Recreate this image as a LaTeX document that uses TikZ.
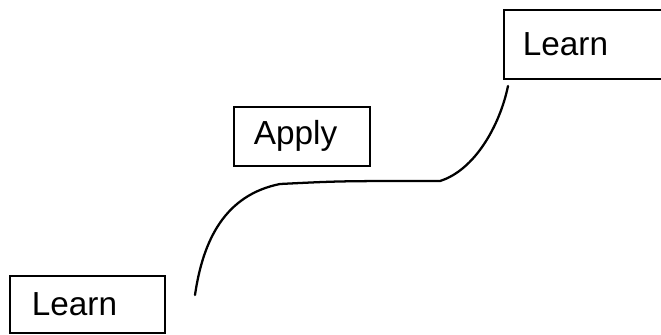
\documentclass[tikz,border=0pt]{standalone}
\usepackage{fontspec}
\setmainfont{Liberation Sans}
\usepackage{tikz}

\begin{document}
\begin{tikzpicture}[x=0.75pt, y=-0.75pt,
    stagebox/.style={draw, line width=1.3pt, anchor=north west, align=left,
        font=\fontsize{25}{29}\selectfont, inner ysep=0pt}]
			\useasboundingbox (0, 0) rectangle (661, 335);
			\node [stagebox, text width=83.25pt, inner xsep=16.5pt, minimum height=42.75pt] (learnA) at (9, 275) {Learn};
			\node [stagebox, text width=72pt, inner xsep=15pt, minimum height=44.25pt] (apply) at (233, 106) {Apply};
			\node [stagebox, text width=100pt, inner xsep=14.25pt, minimum height=51.75pt] (learnB) at (503, 9) {Learn};
			\coordinate (start) at (195, 295);
			\coordinate (flat) at (280, 184);
			\coordinate (knee) at (440, 181);
			\coordinate (stop) at (508, 86);
			\draw [line width=1.7pt, line cap=round] (start) .. controls (203, 240) and (225, 195) .. (flat)
				.. controls (340, 181) .. (knee)
				.. controls (475, 170) and (500, 125) .. (stop);
\end{tikzpicture}
\end{document}
